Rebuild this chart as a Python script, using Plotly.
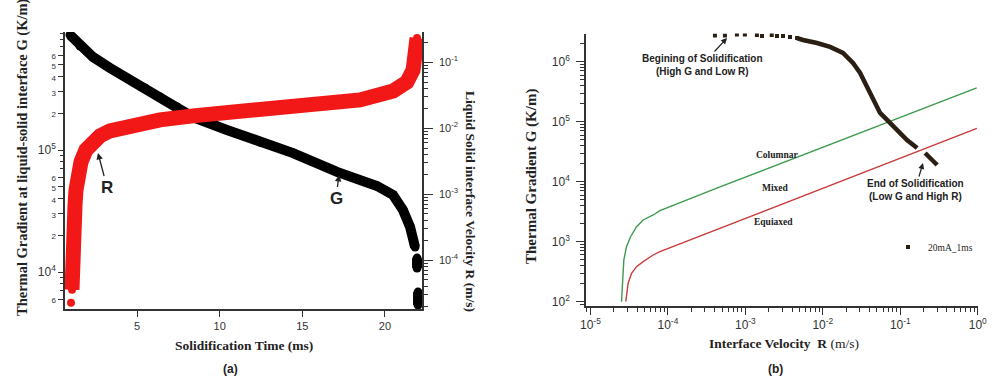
import plotly.graph_objects as go

W, H = 1008, 386

# ---------------- panel (a): solidification time series ----------------
time_G = [0.947, 1.552, 2.338, 3.367, 4.395, 5.484, 6.391, 7.420, 8.388, 10.44, 12.44,
          14.44, 17.10, 19.52, 20.49, 21.09, 21.52, 21.82, None, 21.94, 21.94, None, 22.00, 22.00]
G_vals = [8.77e5, 7.11e5, 5.78e5, 4.70e5, 3.89e5, 3.22e5, 2.72e5, 2.25e5, 1.86e5, 1.46e5, 1.16e5,
          9.44e4, 6.61e4, 5.07e4, 4.28e4, 3.22e4, 2.34e4, 1.60e4, None, 1.30e4, 1.08e4, None, 6.85e3, 5.37e3]

time_R = [1.007, None, 1.068, 1.068, 1.128, 1.128, 1.189, 1.189, 1.250, 1.310, 1.431, 1.612,
          1.915, 2.338, 2.762, 3.367, 4.395, 6.391, 8.388, 12.44, 16.49, 18.49, 20.49, 21.33,
          21.70, 21.88, 21.94]
R_vals = [2.25e-5, None, 3.55e-5, 5.03e-5, 8.2e-5, 1.43e-4, 2.42e-4, 4.08e-4, 6.9e-4, 1.16e-3,
          1.96e-3, 3.08e-3, 4.69e-3, 6.42e-3, 7.64e-3, 9.1e-3, 1.08e-2, 1.34e-2, 1.54e-2, 1.83e-2,
          2.25e-2, 2.69e-2, 3.67e-2, 5.03e-2, 7.6e-2, 0.138, 0.233]

time_ticks = [5, 10, 15, 20]
G_tick_vals = [6e3, 1e4, 2e4, 3e4, 4e4, 5e4, 6e4, 1e5, 2e5, 3e5, 4e5, 5e5, 6e5]
G_tick_text = ["6", "10<sup>4</sup>", "2", "3", "4", "5", "6", "10<sup>5</sup>", "2", "3", "4", "5", "6"]
G_minor_vals = [7e3, 8e3, 9e3, 7e4, 8e4, 9e4, 7e5, 8e5, 9e5]
R_tick_vals = [1e-4, 1e-3, 1e-2, 1e-1]
R_tick_text = ["10<sup>-4</sup>", "10<sup>-3</sup>", "10<sup>-2</sup>", "10<sup>-1</sup>"]

# ---------------- panel (b): G vs R map ----------------
columnar_R = [2.52e-5, 2.60e-5, 2.70e-5, 2.92e-5, 3.30e-5, 3.94e-5, 4.80e-5, 6.46e-5, 7.89e-5, 4.70e-4, 0.97]
columnar_G = [100, 261, 495, 826, 1211, 1778, 2301, 2786, 3289, 8166, 3.65e5]
equiaxed_R = [2.86e-5, 3.07e-5, 3.40e-5, 3.94e-5, 4.80e-5, 6.46e-5, 7.89e-5, 4.70e-4, 0.973]
equiaxed_G = [100, 203, 297, 383, 465, 600, 681, 1671, 7.76e4]

run_sparse_R = [4.05e-4, 5.45e-4, 7.78e-4, 9.86e-4, 1.41e-3, 1.64e-3, 2.19e-3, 2.56e-3, 3.06e-3, 3.77e-3, 4.65e-3]
run_sparse_G = [2.74e6, 2.74e6, 2.84e6, 2.84e6, 2.79e6, 2.68e6, 2.79e6, 2.68e6, 2.68e6, 2.58e6, 2.48e6]
run_dense_R = [4.65e-3, 5.55e-3, 8.41e-3, 1.24e-2, 1.82e-2, 2.45e-2, 3.03e-2, 3.72e-2, 4.46e-2, 5.48e-2,
               6.75e-2, 9.08e-2, 0.122, 0.165, None, 0.209, 0.25, 0.299]
run_dense_G = [2.48e6, 2.30e6, 2.05e6, 1.76e6, 1.40e6, 9.51e5, 6.49e5, 3.78e5, 2.30e5, 1.40e5,
               1.07e5, 7.28e4, 4.95e4, 3.65e4, None, 3.01e4, 2.39e4, 1.90e4]

b_R_ticks = [1e-5, 1e-4, 1e-3, 1e-2, 1e-1, 1e0]
b_R_text = ["10<sup>-5</sup>", "10<sup>-4</sup>", "10<sup>-3</sup>", "10<sup>-2</sup>", "10<sup>-1</sup>", "10<sup>0</sup>"]
b_G_ticks = [1e2, 1e3, 1e4, 1e5, 1e6]
b_G_text = ["10<sup>2</sup>", "10<sup>3</sup>", "10<sup>4</sup>", "10<sup>5</sup>", "10<sup>6</sup>"]


def minor_log(lo, hi):
    out = []
    for e in range(lo, hi + 1):
        for m in range(2, 10):
            out.append(m * 10.0 ** e)
    return out


def px(x):
    return x / W


def py(y):
    return 1 - y / H


def small(t):
    return t if "sup" in t else "<span style='font-size:8px'>" + t + "</span>"


SANS = "Arial, Liberation Sans, sans-serif"
SERIF = "Times New Roman, Liberation Serif, serif"
AX = "#333333"

fig = go.Figure()

# panel (a)
fig.add_trace(go.Scatter(x=time_G, y=G_vals, mode="lines+markers", xaxis="x", yaxis="y",
                         line=dict(color="black", width=10), marker=dict(color="black", size=9),
                         showlegend=False, hoverinfo="skip"))
fig.add_trace(go.Scatter(x=time_R, y=R_vals, mode="lines+markers", xaxis="x", yaxis="y2",
                         line=dict(color="#f21818", width=15), marker=dict(color="#f21818", size=8),
                         showlegend=False, hoverinfo="skip"))

# panel (b)
fig.add_trace(go.Scatter(x=columnar_R, y=columnar_G, mode="lines", xaxis="x3", yaxis="y3",
                         line=dict(color="#3c9a4c", width=1.4), showlegend=False, hoverinfo="skip"))
fig.add_trace(go.Scatter(x=equiaxed_R, y=equiaxed_G, mode="lines", xaxis="x3", yaxis="y3",
                         line=dict(color="#c83c3c", width=1.4), showlegend=False, hoverinfo="skip"))
fig.add_trace(go.Scatter(x=run_dense_R, y=run_dense_G, mode="lines", xaxis="x3", yaxis="y3",
                         line=dict(color="#2a1f12", width=4.5), showlegend=False, hoverinfo="skip"))
fig.add_trace(go.Scatter(x=run_sparse_R, y=run_sparse_G, mode="markers", xaxis="x3", yaxis="y3",
                         marker=dict(color="#2a1f12", size=4, symbol="square"),
                         name="20mA_1ms", showlegend=True, hoverinfo="skip"))

axis_common = dict(showgrid=False, zeroline=False, showline=True, linecolor=AX, linewidth=1.5,
                   ticks="outside", tickcolor=AX, tickwidth=1.2, automargin=False)

fig.update_layout(
    width=W, height=H,
    margin=dict(l=0, r=0, t=0, b=0, autoexpand=False),
    paper_bgcolor="white", plot_bgcolor="white",
    xaxis=dict(**axis_common, domain=[px(65), px(422)], range=[0.644, 22.24], anchor="y",
               tickvals=time_ticks, ticklen=6, tickfont=dict(family=SANS, size=11, color=AX)),
    yaxis=dict(**axis_common, domain=[py(309), py(32)], type="log", range=[3.697, 5.967], anchor="x",
               tickvals=G_tick_vals, ticktext=[small(t) for t in G_tick_text], ticklen=5,
               tickfont=dict(family=SANS, size=12, color=AX),
               minor=dict(tickvals=G_minor_vals, ticks="outside", ticklen=3, tickcolor=AX)),
    yaxis2=dict(**axis_common, overlaying="y", side="right", type="log", range=[-4.742, -0.541],
                anchor="x", tickvals=R_tick_vals, ticktext=R_tick_text, ticklen=9,
                ticklabelstandoff=4,
                tickfont=dict(family=SANS, size=11, color=AX),
                minor=dict(tickvals=minor_log(-5, -1), ticks="outside", ticklen=4, tickcolor=AX)),
    xaxis3=dict(**axis_common, domain=[px(586), px(978)], type="log", range=[-5.057, 0.003],
                anchor="y3", tickvals=b_R_ticks, ticktext=b_R_text, ticklen=7,
                tickfont=dict(family=SANS, size=12, color=AX),
                minor=dict(tickvals=minor_log(-6, -1), ticks="outside", ticklen=4, tickcolor=AX)),
    yaxis3=dict(**axis_common, domain=[py(306), py(33.5)], type="log", range=[1.928, 6.47],
                anchor="x3", tickvals=b_G_ticks, ticktext=b_G_text, ticklen=8,
                ticklabelstandoff=4,
                tickfont=dict(family=SANS, size=12, color=AX),
                minor=dict(tickvals=minor_log(1, 6), ticks="outside", ticklen=4, tickcolor=AX)),
    legend=dict(x=px(888), y=py(247), xanchor="left", yanchor="middle", bgcolor="rgba(0,0,0,0)",
                font=dict(family=SERIF, size=9.5, color="#222"), itemwidth=30),
)

ann = []
# panel (a) texts
ann.append(dict(text="<b>Thermal Gradient at liquid-solid interface G (K/m)</b>", x=px(22), y=py(318),
                xanchor="center", yanchor="bottom", textangle=-90, showarrow=False,
                font=dict(family=SERIF, size=14.5, color="#222")))
ann.append(dict(text="<b>Liquid Solid interface Velocity R (m/s)</b>", x=px(470), y=py(201),
                xanchor="center", yanchor="middle", textangle=90, showarrow=False,
                font=dict(family=SERIF, size=13.5, color="#222")))
ann.append(dict(text="<b>Solidification Time (ms)</b>", x=px(244), y=py(345), xanchor="center",
                yanchor="middle", showarrow=False, font=dict(family=SERIF, size=13.5, color="#222")))
ann.append(dict(text="<b>(a)</b>", x=px(230), y=py(369), xanchor="center", yanchor="middle",
                showarrow=False, font=dict(family=SANS, size=12, color="#222")))
ann.append(dict(text="<b>R</b>", x=px(98), y=py(153), ax=9, ay=34, showarrow=True, arrowhead=2,
                arrowsize=1, arrowwidth=1.3, arrowcolor="#222", standoff=0,
                font=dict(family=SANS, size=17, color="#222")))
ann.append(dict(text="<b>G</b>", x=px(339), y=py(175), ax=-3, ay=23, showarrow=True, arrowhead=2,
                arrowsize=1, arrowwidth=1.3, arrowcolor="#222", standoff=0,
                font=dict(family=SANS, size=17, color="#222")))
# panel (b) texts
ann.append(dict(text="<b>Thermal Gradient G (K/m)</b>", x=px(531), y=py(177), xanchor="center",
                yanchor="middle", textangle=-90, showarrow=False,
                font=dict(family=SERIF, size=15, color="#222")))
ann.append(dict(text="<b>Interface Velocity  R</b> (m/s)", x=px(784), y=py(343), xanchor="center",
                yanchor="middle", showarrow=False, font=dict(family=SERIF, size=13.5, color="#222")))
ann.append(dict(text="<b>(b)</b>", x=px(775), y=py(369), xanchor="center", yanchor="middle",
                showarrow=False, font=dict(family=SANS, size=12, color="#222")))
ann.append(dict(text="<b>Begining of Solidification<br>(High G and Low R)</b>", x=px(727), y=py(38),
                ax=-25, ay=27, showarrow=True, arrowhead=2, arrowsize=1, arrowwidth=1.2,
                arrowcolor="#222", standoff=0, font=dict(family=SANS, size=10, color="#222")))
ann.append(dict(text="<b>End of Solidification<br>(Low G and High R)</b>", x=px(923), y=py(163),
                ax=-8, ay=27, showarrow=True, arrowhead=2, arrowsize=1, arrowwidth=1.2,
                arrowcolor="#222", standoff=0, font=dict(family=SANS, size=10, color="#222")))
for t, xx, yy in [("Columnar", 777, 155), ("Mixed", 775, 188), ("Equiaxed", 773, 222)]:
    ann.append(dict(text="<b>" + t + "</b>", x=px(xx), y=py(yy), xanchor="center", yanchor="middle",
                    showarrow=False, font=dict(family=SERIF, size=9.5, color="#222")))

fig.update_layout(annotations=[dict(a, xref="paper", yref="paper") for a in ann])

fig.write_html("out.html", config={"displayModeBar": False},
               post_script="document.body.style.margin='0';document.body.style.overflow='hidden';")
